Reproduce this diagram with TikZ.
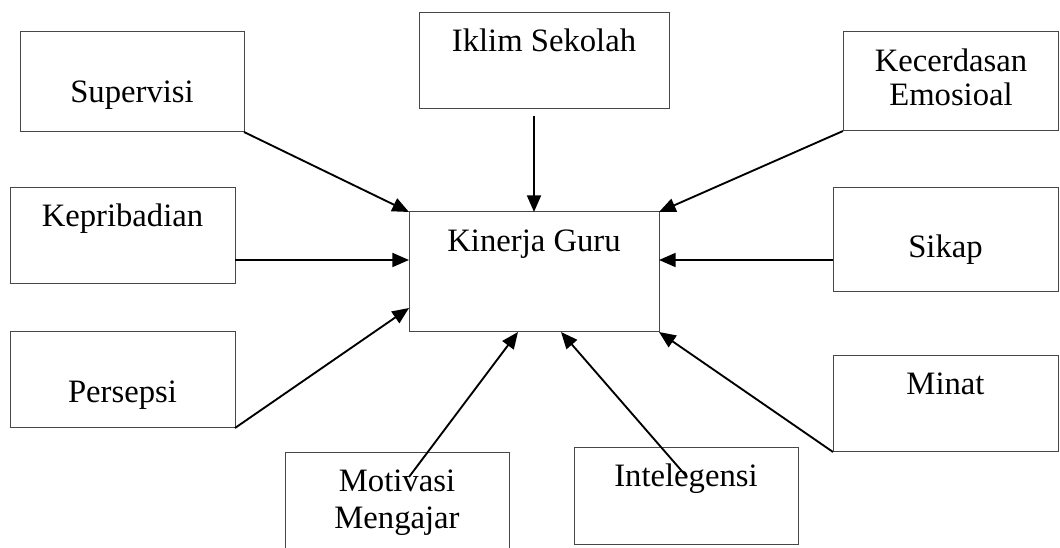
\documentclass[tikz,border=0pt]{standalone}
\usepackage{fontspec}
\setmainfont{Liberation Serif}
\usetikzlibrary{arrows.meta,fit}
\begin{document}
\begin{tikzpicture}[x=0.75pt,y=-0.75pt,
  box/.style={draw=black!72, line width=0.75pt, inner sep=0pt, outer sep=0pt},
  lbl/.style={inner sep=0pt, anchor=base, align=center, font=\fontsize{24.5}{26.5}\selectfont},
  arr/.style={draw=black, line width=1.4pt, -{Triangle[length=12.5pt,width=10.5pt]}}]
\useasboundingbox (0,0) rectangle (1060,548);
% boxes
\node[box, fit={(409,212) (659,332)}] (kin) {};
\node[box, fit={(20,32) (244,132)}] (sup) {};
\node[box, fit={(10,188) (235,284)}] (kep) {};
\node[box, fit={(10,332) (235,428)}] (per) {};
\node[box, fit={(419,13) (669,109)}] (ikl) {};
\node[box, fit={(843,32) (1058,131)}] (kec) {};
\node[box, fit={(833,188) (1058,292)}] (sik) {};
\node[box, fit={(833,356) (1058,452)}] (min) {};
\node[box, fit={(285,453) (509,556)}] (mot) {};
\node[box, fit={(574,448) (798,544)}] (int) {};
% labels
\node[lbl] (tkin) at (534,252) {Kinerja Guru};
\node[lbl] (tsup) at (132,103) {Supervisi};
\node[lbl] (tkep) at (122.5,227) {Kepribadian};
\node[lbl] (tper) at (122.5,403) {Persepsi};
\node[lbl] (tikl) at (544,52) {Iklim Sekolah};
\node[lbl] (tkec1) at (951,72) {Kecerdasan};
\node[lbl] (tkec2) at (951,106) {Emosioal};
\node[lbl] (tsik) at (945.5,258) {Sikap};
\node[lbl] (tmin) at (945.5,395) {Minat};
\node[lbl] (tmot1) at (397,492) {Motivasi};
\node[lbl] (tmot2) at (397,528) {Mengajar};
\node[lbl] (tint) at (686,487) {Intelegensi};
% connector end points
\coordinate (kepA) at (235,260);
\coordinate (kinW) at (409,260);
\coordinate (kinSW) at (409,308);
\coordinate (iklA) at (534,116);
\coordinate (kinN) at (534,212);
\coordinate (sikA) at (833,260);
\coordinate (kinE) at (659,260);
\coordinate (motA) at (409,477);
\coordinate (kinB1) at (518,332);
\coordinate (intA) at (687,477);
\coordinate (kinB2) at (561,332);
% connectors
\draw[arr] (sup.south east) -- (kin.north west);
\draw[arr] (kepA) -- (kinW);
\draw[arr] (per.south east) -- (kinSW);
\draw[arr] (iklA) -- (kinN);
\draw[arr] (kec.south west) -- (kin.north east);
\draw[arr] (sikA) -- (kinE);
\draw[arr] (min.south west) -- (kin.south east);
\draw[arr] (motA) -- (kinB1);
\draw[arr] (intA) -- (kinB2);
\end{tikzpicture}
\end{document}
